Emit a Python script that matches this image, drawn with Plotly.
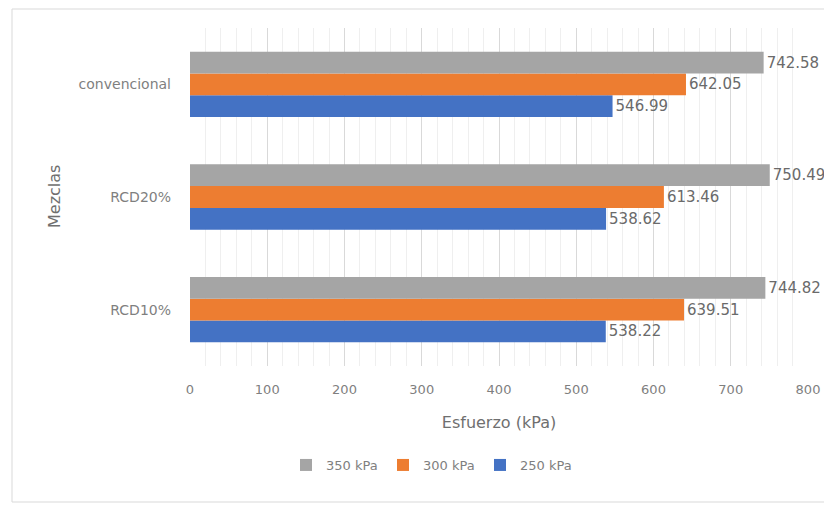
import plotly.graph_objects as go

categories = ["RCD10%", "RCD20%", "convencional"]
series_names = ["250 kPa", "300 kPa", "350 kPa"]
values_250 = [538.22, 538.62, 546.99]
values_300 = [639.51, 613.46, 642.05]
values_350 = [744.82, 750.49, 742.58]
colors = ["#4472C4", "#ED7D31", "#A5A5A5"]
tick_vals = [0, 100, 200, 300, 400, 500, 600, 700, 800]

FONT = "DejaVu Sans"
OFF = 8  # page body margin
W, H = 832 - OFF, 506 - OFF
# plot area in page pixels: left 190, right 808, top 28, bottom 366
l = 190 - OFF
t = 28 - OFF
r = W - (808 - OFF)
b = H - (366 - OFF)
pw, ph = W - l - r, H - t - b

def px_x(x):
    return (x - OFF - l) / pw

def px_y(y):
    return (H - b - (y - OFF)) / ph

fig = go.Figure()
for name, vals, col in zip(series_names, [values_250, values_300, values_350], colors):
    fig.add_trace(go.Bar(
        y=categories, x=vals, name=name, orientation="h",
        marker=dict(color=col, line=dict(width=0)),
        text=[f"{v:.2f}" for v in vals], textposition="outside",
        textfont=dict(color="#6a6a6a", size=15, family=FONT),
        cliponaxis=False,
    ))

fig.update_layout(
    width=W, height=H,
    margin=dict(l=l, r=r, t=t, b=b, pad=0),
    paper_bgcolor="white", plot_bgcolor="white",
    barmode="group", bargap=0.42, bargroupgap=0,
    font=dict(family=FONT, color="#7f7f7f", size=12),
    showlegend=True,
    legend=dict(orientation="h", traceorder="reversed",
                x=px_x(286), xanchor="left", y=px_y(465), yanchor="middle",
                itemwidth=30, entrywidth=52, entrywidthmode="pixels",
                font=dict(size=13, color="#7f7f7f", family=FONT)),
    xaxis=dict(range=[0, 800], tickvals=tick_vals, showgrid=True,
               gridcolor="#d9d9d9", gridwidth=1, zeroline=False,
               ticks="", showline=False, ticklabelstandoff=14,
               minor=dict(dtick=20, showgrid=True, gridcolor="#efefef", gridwidth=1),
               tickfont=dict(size=13, color="#7f7f7f"),
               title=dict(text="Esfuerzo (kPa)", font=dict(size=16, color="#6f6f6f"), standoff=20)),
    yaxis=dict(showgrid=False, ticks="", showline=False, zeroline=False,
               ticklabelstandoff=18,
               tickfont=dict(size=14, color="#7f7f7f")),
)

fig.add_annotation(text="Mezclas", xref="paper", yref="paper",
                   x=px_x(54), y=px_y(197), textangle=-90, showarrow=False,
                   xanchor="center", yanchor="middle",
                   font=dict(size=16, color="#6f6f6f", family=FONT))

fig.add_shape(type="rect", xref="paper", yref="paper",
              x0=px_x(12), x1=px_x(831), y0=px_y(502), y1=px_y(9),
              line=dict(color="#d9d9d9", width=1), fillcolor="rgba(0,0,0,0)", layer="below")

fig.write_html("out.html")
